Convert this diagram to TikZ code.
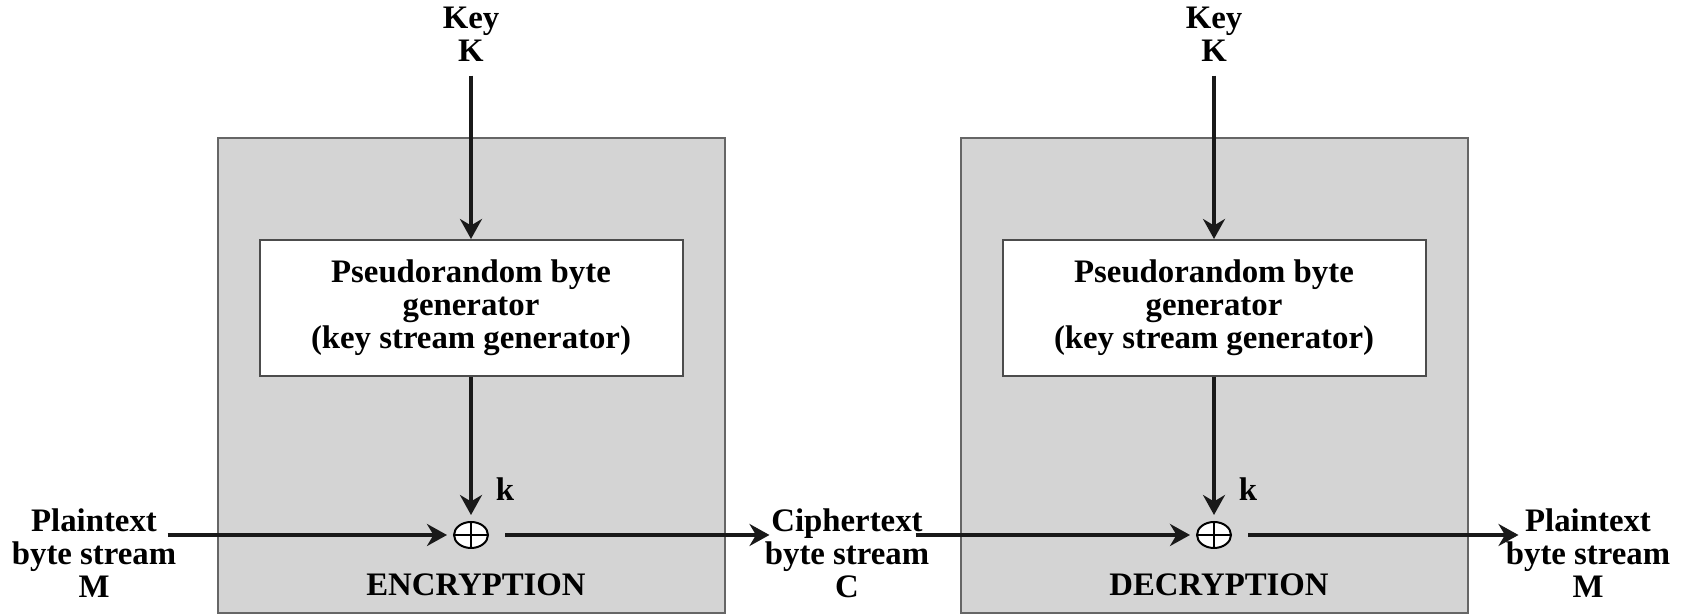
\documentclass[tikz,border=0pt]{standalone}
\usepackage{fontspec}
\setmainfont{Liberation Serif}
\usetikzlibrary{arrows,arrows.meta}
\usetikzlibrary{calc}
\usetikzlibrary{shapes.geometric}

\tikzset{
  grayblock/.style={draw=black!60, fill=black!17, line width=1pt},
  prgbox/.style={draw=black!70, fill=white, line width=1pt, minimum width=211.5pt, minimum height=68pt, align=center, font=\fontsize{16.4}{16.4}\selectfont\bfseries},
  lbl/.style={align=center, inner sep=0, font=\fontsize{16.4}{16.4}\selectfont\bfseries},
  xorop/.style={ellipse, draw, fill=white, line width=1pt, minimum width=17pt, minimum height=13pt, inner sep=0,
    path picture={\draw[line width=1pt] (path picture bounding box.north) -- (path picture bounding box.south)
                                        (path picture bounding box.west) -- (path picture bounding box.east);}},
  flow/.style={black!90, line width=2pt, ->, >={Stealth[length=10pt, width=11pt]}}
}

\begin{document}
\begin{tikzpicture}[x=0.5pt, y=0.5pt]
\useasboundingbox (0,0) rectangle (1681,614);
% the two halves: encryption and decryption
\foreach \cx/\nm/\lab in {471/enc/ENCRYPTION, 1214/dec/DECRYPTION} {
 \draw[grayblock] (\cx-253,0.5) rectangle (\cx+254,476);
 \node[prgbox] (prg\nm) at (\cx,306) {Pseudorandom byte\\generator\\(key stream generator)};
 \node[lbl] (key\nm) at (\cx,580) {Key\\K};
 \node[xorop] (xor\nm) at (\cx,79) {};
 \node[lbl] (k\nm) at (\cx+34,125) {k};
 \node[lbl] (lab\nm) at (\cx+5,29) {\lab};
 \draw[flow, shorten <=7pt] (key\nm.south) -- (prg\nm.north);
 \draw[flow, shorten >=3pt] (prg\nm.south) -- (xor\nm.north);
}
\node[lbl] (ptin) at (94,61) {Plaintext\\byte stream\\M};
\node[lbl] (ct) at (847,61) {Ciphertext\\byte stream\\C};
\node[lbl] (ptout) at (1588,61) {Plaintext\\byte stream\\M};
\draw[flow, shorten <=-4.5pt, shorten >=3pt] (ptin.east |- xorenc) -- (xorenc.west);
\draw[flow, shorten <=8pt, shorten >=-2.5pt] (xorenc.east) -- (ct.west |- xorenc);
\draw[flow, shorten <=-7pt, shorten >=3pt] (ct.east |- xordec) -- (xordec.west);
\draw[flow, shorten <=8pt, shorten >=-6.5pt] (xordec.east) -- (ptout.west |- xordec);
\end{tikzpicture}
\end{document}
